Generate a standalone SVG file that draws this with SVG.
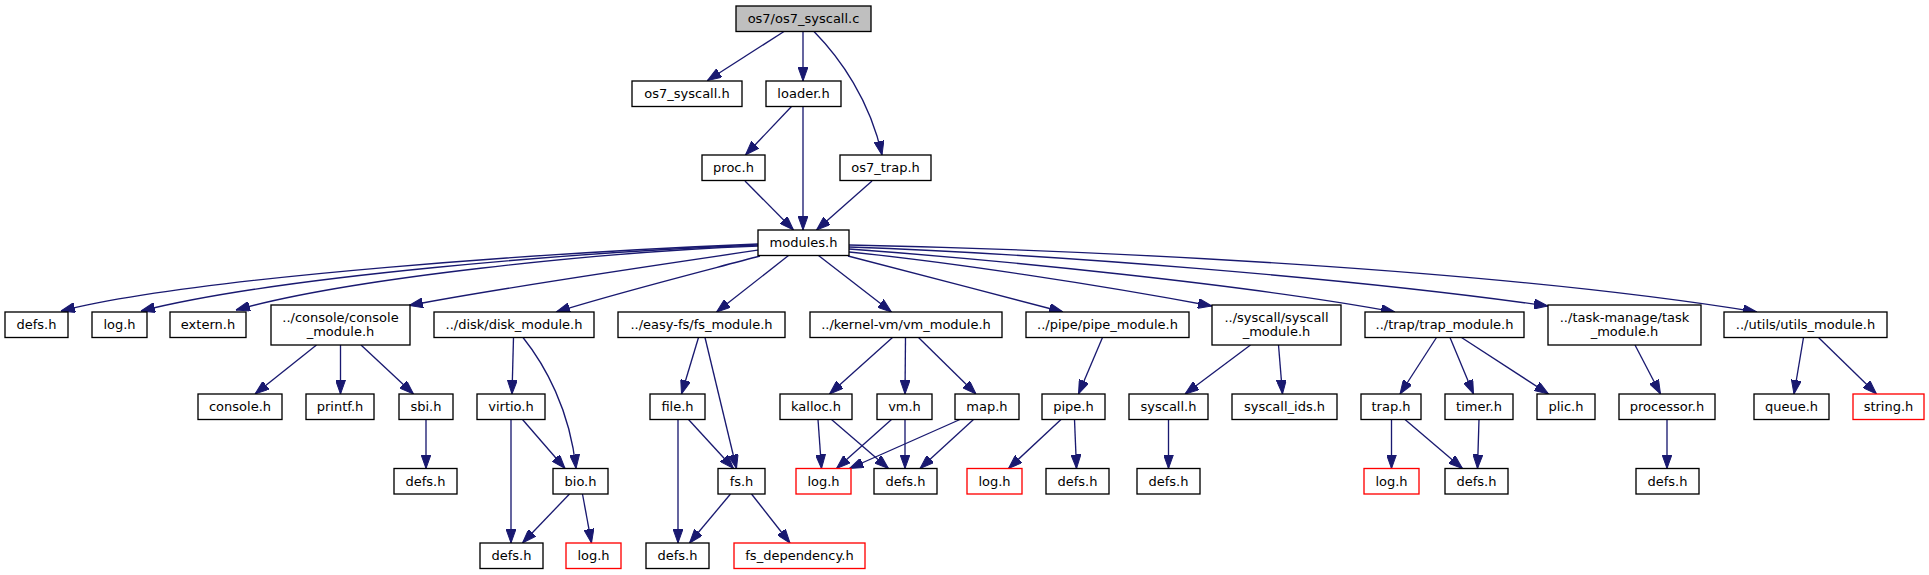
<svg xmlns="http://www.w3.org/2000/svg" width="1929" height="575" viewBox="0 0 1929 575">
<style>
.n rect{fill:#ffffff;stroke:#000000;stroke-width:1.33}
.n.root rect{fill:#bfbfbf}
.n.red rect{stroke:#ff0000}
.n text{font-family:"DejaVu Sans",sans-serif;font-size:13px;fill:#000000;text-anchor:middle}
#edges path{fill:none;stroke:#191970;stroke-width:1.33;marker-end:url(#arr)}
</style>
<defs>
<marker id="arr" markerUnits="userSpaceOnUse" viewBox="0 0 14 10" markerWidth="14" markerHeight="10" refX="14" refY="5" orient="auto">
<path d="M0,0 L14,5 L0,10 z" fill="#191970" stroke="#191970" stroke-width="1"/>
</marker>
</defs>
<rect width="1929" height="575" fill="#ffffff"/>
<g id="edges">
<path d="M784,31.5 L707.5,80.5"/>
<path d="M803,31.5 L803,81"/>
<path d="M814,31.5 C840,58 870,100 882,155"/>
<path d="M791.5,106.5 L745.5,155"/>
<path d="M803,106.5 L803,230"/>
<path d="M745,181 L793.5,230"/>
<path d="M872,181 L816.5,230"/>
<path d="M758,244 C560,252 200,276 61,311"/>
<path d="M758,245 C580,252 280,276 141,311"/>
<path d="M758,246 C600,252 350,278 236,310"/>
<path d="M759,250 C650,266 500,288 409,305.5"/>
<path d="M760,256 C700,272 620,292 556,312"/>
<path d="M788.5,255.5 L716.5,312"/>
<path d="M818.5,255.5 L891.5,312"/>
<path d="M848,256 C900,270 1000,295 1063,312"/>
<path d="M849,252 C950,262 1100,285 1212,306"/>
<path d="M849,249 C1000,260 1250,285 1395,312"/>
<path d="M849,247 C1050,254 1350,278 1548,306"/>
<path d="M849,245 C1100,250 1500,270 1757,312"/>
<path d="M316.5,345 L255,394"/>
<path d="M340.5,345 L340.5,394"/>
<path d="M361,345 L413.5,394"/>
<path d="M426,419.5 L426,468.5"/>
<path d="M513.5,337.5 L512,394"/>
<path d="M523,337.5 C545,365 570,410 576,468.5"/>
<path d="M511,419.5 L511,543"/>
<path d="M522.5,419.5 L565,468.5"/>
<path d="M569.5,494 L522.5,543"/>
<path d="M582.5,494 L591.5,543"/>
<path d="M698.5,337.5 L681.5,394"/>
<path d="M705,337.5 L736.5,468.5"/>
<path d="M678,419.5 L678,543"/>
<path d="M688.5,419.5 L733.5,468.5"/>
<path d="M730.5,494 L689.5,543"/>
<path d="M751.5,494 L790,543"/>
<path d="M892.5,337.5 L829.5,394"/>
<path d="M905.5,337.5 L905,394"/>
<path d="M918.5,337.5 L976,394"/>
<path d="M818,419.5 L821.5,468.5"/>
<path d="M831.5,419.5 L888.5,468.5"/>
<path d="M891.5,419.5 L836.5,468.5"/>
<path d="M905,419.5 L905,468.5"/>
<path d="M960,419.5 L849.5,468.5"/>
<path d="M973.5,419.5 L920,468.5"/>
<path d="M1102.5,337.5 L1078.5,394"/>
<path d="M1061,419.5 L1008.5,468.5"/>
<path d="M1074.5,419.5 L1076.5,468.5"/>
<path d="M1250.5,345 L1185,394"/>
<path d="M1278.5,345 L1282.5,394"/>
<path d="M1168.5,419.5 L1168.5,468.5"/>
<path d="M1436.5,337.5 L1400,394"/>
<path d="M1450,337.5 L1473.5,394"/>
<path d="M1461.5,337.5 L1548.5,394"/>
<path d="M1391.5,419.5 L1391.5,468.5"/>
<path d="M1405,419.5 L1462.5,468.5"/>
<path d="M1479,419.5 L1477.5,468.5"/>
<path d="M1635,345 L1660.5,394"/>
<path d="M1667,419.5 L1667,468.5"/>
<path d="M1803.5,337.5 L1794,394"/>
<path d="M1818.5,337.5 L1876.5,394"/>
</g>
<g id="n0" class="n root"><rect x="736" y="6" width="135" height="25.5"/><text x="803.5" y="23">os7/os7_syscall.c</text></g>
<g id="n1" class="n"><rect x="632" y="81" width="110" height="25.5"/><text x="687" y="98">os7_syscall.h</text></g>
<g id="n2" class="n"><rect x="766" y="81" width="75" height="25.5"/><text x="803.5" y="98">loader.h</text></g>
<g id="n3" class="n"><rect x="702" y="155" width="63" height="25.5"/><text x="733.5" y="172">proc.h</text></g>
<g id="n4" class="n"><rect x="840" y="155" width="91" height="25.5"/><text x="885.5" y="172">os7_trap.h</text></g>
<g id="n5" class="n"><rect x="758" y="230" width="91" height="25.5"/><text x="803.5" y="247">modules.h</text></g>
<g id="n6" class="n"><rect x="5" y="312" width="63" height="25.5"/><text x="36.5" y="329">defs.h</text></g>
<g id="n7" class="n"><rect x="92" y="312" width="55" height="25.5"/><text x="119.5" y="329">log.h</text></g>
<g id="n8" class="n"><rect x="170" y="312" width="76" height="25.5"/><text x="208" y="329">extern.h</text></g>
<g id="n9" class="n"><rect x="271" y="305" width="139" height="40"/><text x="340.5" y="322">../console/console</text><text x="340.5" y="336">_module.h</text></g>
<g id="n10" class="n"><rect x="434" y="312" width="160" height="25.5"/><text x="514" y="329">../disk/disk_module.h</text></g>
<g id="n11" class="n"><rect x="618" y="312" width="167" height="25.5"/><text x="701.5" y="329">../easy-fs/fs_module.h</text></g>
<g id="n12" class="n"><rect x="810" y="312" width="192" height="25.5"/><text x="906" y="329">../kernel-vm/vm_module.h</text></g>
<g id="n13" class="n"><rect x="1026" y="312" width="163" height="25.5"/><text x="1107.5" y="329">../pipe/pipe_module.h</text></g>
<g id="n14" class="n"><rect x="1212" y="305" width="129" height="40"/><text x="1276.5" y="322">../syscall/syscall</text><text x="1276.5" y="336">_module.h</text></g>
<g id="n15" class="n"><rect x="1365" y="312" width="159" height="25.5"/><text x="1444.5" y="329">../trap/trap_module.h</text></g>
<g id="n16" class="n"><rect x="1548" y="305" width="153" height="40"/><text x="1624.5" y="322">../task-manage/task</text><text x="1624.5" y="336">_module.h</text></g>
<g id="n17" class="n"><rect x="1724" y="312" width="163" height="25.5"/><text x="1805.5" y="329">../utils/utils_module.h</text></g>
<g id="n18" class="n"><rect x="198" y="394" width="84" height="25.5"/><text x="240" y="411">console.h</text></g>
<g id="n19" class="n"><rect x="306" y="394" width="68" height="25.5"/><text x="340" y="411">printf.h</text></g>
<g id="n20" class="n"><rect x="399" y="394" width="54" height="25.5"/><text x="426" y="411">sbi.h</text></g>
<g id="n21" class="n"><rect x="477" y="394" width="68" height="25.5"/><text x="511" y="411">virtio.h</text></g>
<g id="n22" class="n"><rect x="650" y="394" width="55" height="25.5"/><text x="677.5" y="411">file.h</text></g>
<g id="n23" class="n"><rect x="780" y="394" width="72" height="25.5"/><text x="816" y="411">kalloc.h</text></g>
<g id="n24" class="n"><rect x="877" y="394" width="55" height="25.5"/><text x="904.5" y="411">vm.h</text></g>
<g id="n25" class="n"><rect x="955" y="394" width="64" height="25.5"/><text x="987" y="411">map.h</text></g>
<g id="n26" class="n"><rect x="1042" y="394" width="63" height="25.5"/><text x="1073.5" y="411">pipe.h</text></g>
<g id="n27" class="n"><rect x="1129" y="394" width="79" height="25.5"/><text x="1168.5" y="411">syscall.h</text></g>
<g id="n28" class="n"><rect x="1232" y="394" width="105" height="25.5"/><text x="1284.5" y="411">syscall_ids.h</text></g>
<g id="n29" class="n"><rect x="1361" y="394" width="60" height="25.5"/><text x="1391" y="411">trap.h</text></g>
<g id="n30" class="n"><rect x="1445" y="394" width="68" height="25.5"/><text x="1479" y="411">timer.h</text></g>
<g id="n31" class="n"><rect x="1537" y="394" width="58" height="25.5"/><text x="1566" y="411">plic.h</text></g>
<g id="n32" class="n"><rect x="1619" y="394" width="96" height="25.5"/><text x="1667" y="411">processor.h</text></g>
<g id="n33" class="n"><rect x="1754" y="394" width="75" height="25.5"/><text x="1791.5" y="411">queue.h</text></g>
<g id="n34" class="n red"><rect x="1853" y="394" width="71" height="25.5"/><text x="1888.5" y="411">string.h</text></g>
<g id="n35" class="n"><rect x="394" y="468.5" width="63" height="25.5"/><text x="425.5" y="485.5">defs.h</text></g>
<g id="n36" class="n"><rect x="553" y="468.5" width="55" height="25.5"/><text x="580.5" y="485.5">bio.h</text></g>
<g id="n37" class="n"><rect x="718" y="468.5" width="47" height="25.5"/><text x="741.5" y="485.5">fs.h</text></g>
<g id="n38" class="n red"><rect x="796" y="468.5" width="55" height="25.5"/><text x="823.5" y="485.5">log.h</text></g>
<g id="n39" class="n"><rect x="874" y="468.5" width="63" height="25.5"/><text x="905.5" y="485.5">defs.h</text></g>
<g id="n40" class="n red"><rect x="967" y="468.5" width="55" height="25.5"/><text x="994.5" y="485.5">log.h</text></g>
<g id="n41" class="n"><rect x="1046" y="468.5" width="63" height="25.5"/><text x="1077.5" y="485.5">defs.h</text></g>
<g id="n42" class="n"><rect x="1137" y="468.5" width="63" height="25.5"/><text x="1168.5" y="485.5">defs.h</text></g>
<g id="n43" class="n red"><rect x="1364" y="468.5" width="55" height="25.5"/><text x="1391.5" y="485.5">log.h</text></g>
<g id="n44" class="n"><rect x="1445" y="468.5" width="63" height="25.5"/><text x="1476.5" y="485.5">defs.h</text></g>
<g id="n45" class="n"><rect x="1636" y="468.5" width="63" height="25.5"/><text x="1667.5" y="485.5">defs.h</text></g>
<g id="n46" class="n"><rect x="480" y="543" width="63" height="25.5"/><text x="511.5" y="560">defs.h</text></g>
<g id="n47" class="n red"><rect x="566" y="543" width="55" height="25.5"/><text x="593.5" y="560">log.h</text></g>
<g id="n48" class="n"><rect x="646" y="543" width="63" height="25.5"/><text x="677.5" y="560">defs.h</text></g>
<g id="n49" class="n red"><rect x="734" y="543" width="131" height="25.5"/><text x="799.5" y="560">fs_dependency.h</text></g>
</svg>
